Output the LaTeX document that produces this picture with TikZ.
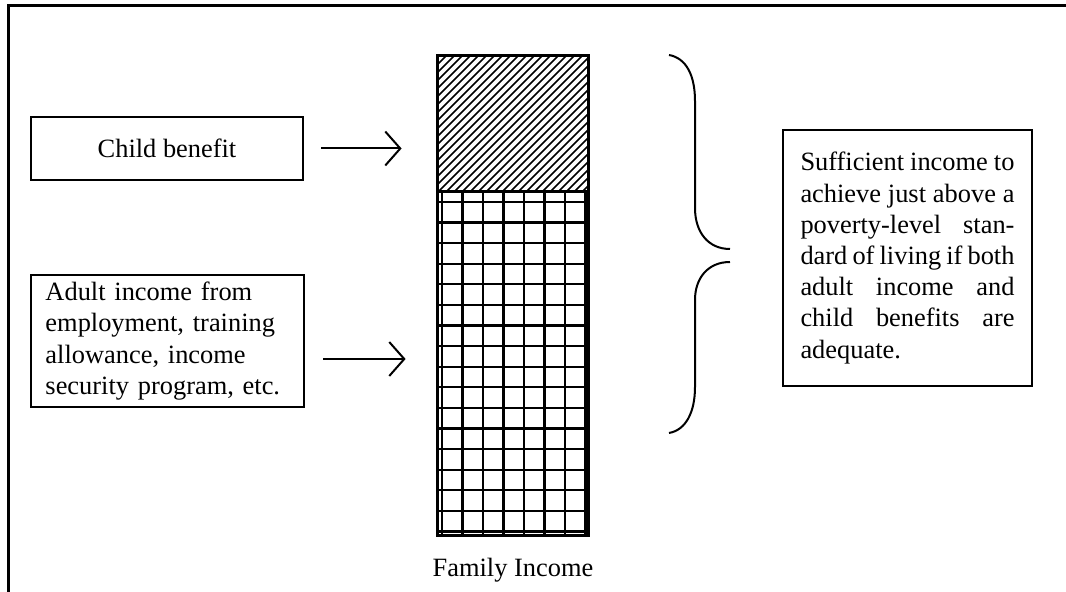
\documentclass[tikz,border=0pt]{standalone}
\usepackage{fontspec}
\setmainfont{Liberation Serif}
\usetikzlibrary{arrows.meta,positioning,calc}

\begin{document}
\begin{tikzpicture}[x=0.5pt,y=-0.5pt,
  box/.style={draw,line width=1pt,inner sep=0pt,font=\fontsize{13.2}{15.6}\selectfont},
  feed/.style={line width=1pt,-{Straight Barb[length=7.5pt,width=17pt,line width=1pt]}},
  bar/.style={line width=1.3pt},
  hatchline/.style={line width=0.8pt},
  gridline/.style={line width=1.1pt}]
\useasboundingbox (0,0) rectangle (1066,592);
\draw[line width=1.5pt] (1066,6) -- (8,6) -- (8,592);

% input boxes
\node[box,minimum width=136pt,minimum height=31.5pt] (child) at (167,148.5) {Child benefit};
\node[box,minimum width=136.5pt,minimum height=66pt,text width=122pt,align=left] (adult) at (167.5,341)
  {Adult income from\\employment, training\\allowance, income\\security program, etc.};

% the income column
\node[minimum width=75pt,minimum height=67.5pt,inner sep=0pt] (hatch) at (513,123.5) {};
\node[minimum width=75pt,minimum height=172pt,inner sep=0pt] (grid) at (513,363) {};
\begin{scope}
\clip (hatch.north west) rectangle (hatch.south east);
\foreach \k in {0,...,36} \draw[hatchline] ({303+8*\k},191) -- ({438+8*\k},56);
\end{scope}
\foreach \k in {0,...,7} \draw[gridline] ({442+20.5*\k},191) -- ({442+20.5*\k},535);
\foreach \k in {0,...,16} \draw[gridline] (438,{202+20.6*\k}) -- (588,{202+20.6*\k});
\draw[bar] (hatch.north west) rectangle (grid.south east);
\draw[bar] (hatch.south west) -- (hatch.south east);
\node[font=\fontsize{13.2}{15.6}\selectfont,below=8pt of grid] (total) {Family Income};

% arrows into the column
\draw[feed,shorten <=8.5pt,shorten >=18pt] (child.east) -- (child.east -| hatch.west);
\draw[feed,shorten <=9pt,shorten >=16pt] ([yshift=-9pt]adult.east) -- ([yshift=-9pt]adult.east -| grid.west);

% brace
\draw[line width=1pt] (669,55) .. controls (686,58) and (695,75) .. (695,101) -- (695,208)
  .. controls (695,232) and (708,249) .. (730,249);
\draw[line width=1pt] (730,262) .. controls (708,262) and (695,278) .. (695,300) -- (695,387)
  .. controls (695,412) and (686,430) .. (669,433);

\node[box,minimum width=124.5pt,minimum height=128pt,text width=107pt,align=justify] (need) at (907.5,258)
  {\tolerance=9999 Sufficient income to\linebreak achieve just above a\linebreak poverty-level stan-\linebreak
   dard of living if both\linebreak adult income and\linebreak child benefits are\linebreak adequate.};
\end{tikzpicture}
\end{document}
